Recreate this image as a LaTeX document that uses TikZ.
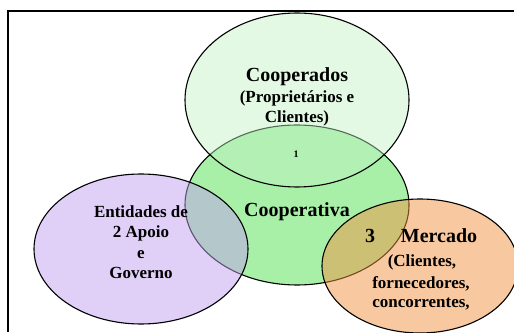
\documentclass[tikz,border=0pt]{standalone}
\usepackage{fontspec}
\setmainfont{Liberation Serif}
\definecolor{cTop}{RGB}{193,241,193}
\definecolor{cMid}{RGB}{168,240,168}
\definecolor{cLeft}{RGB}{193,161,241}
\definecolor{cRight}{RGB}{241,145,65}
\tikzset{
  circ/.style={draw=black, line width=1.1pt},
  big/.style={anchor=base, inner sep=0pt, font=\fontsize{20}{22}\selectfont\bfseries},
  small/.style={anchor=base, inner sep=0pt, font=\fontsize{17}{20}\selectfont\bfseries},
  frameline/.style={draw=black, line width=1.2pt}
}
\begin{document}
\begin{tikzpicture}[x=1pt,y=1pt]
\useasboundingbox (0,0) rectangle (514,332);
% frame
\coordinate (fb) at (8,0);
\coordinate (fc) at (8,321);
\coordinate (fr) at (514,321);
\draw[frameline] (fb) -- (fc) -- (fr);
% ellipses
\fill[cMid] (297,127) ellipse [x radius=112, y radius=80];
\draw[circ] (297,127) ellipse [x radius=112, y radius=80];
\fill[cTop, fill opacity=0.45] (297,232) ellipse [x radius=112, y radius=87];
\draw[circ] (297,232) ellipse [x radius=112, y radius=87];
\fill[cLeft, fill opacity=0.5] (141,83) ellipse [x radius=107, y radius=75];
\draw[circ] (141,83) ellipse [x radius=107, y radius=75];
\fill[cRight, fill opacity=0.5] (420,66) ellipse [x radius=98, y radius=67];
\draw[circ] (420,66) ellipse [x radius=98, y radius=67];
% texts
\node[small, font=\fontsize{10}{11}\selectfont\bfseries] (one) at (296,174) {1};
\node[big] (coop) at (297,250) {Cooperados};
\node[small] (prop) at (297,229) {(Proprietários e};
\node[small] (cli) at (297,209) {Clientes)};
\node[big] (cva) at (297,115) {Cooperativa};
\node[small] (ent) at (141,114) {Entidades de};
\node[small] (apo) at (141,94) {2 Apoio};
\node[small] (e) at (141,73) {e};
\node[small] (gov) at (141,53) {Governo};
\node[big] (three) at (370,89) {3};
\node[big] (merc) at (439,89) {Mercado};
\node[small] (cli2) at (422,65) {(Clientes,};
\node[small] (forn) at (421,43) {fornecedores,};
\node[small] (conc) at (421,24) {concorrentes,};
\end{tikzpicture}
\end{document}
